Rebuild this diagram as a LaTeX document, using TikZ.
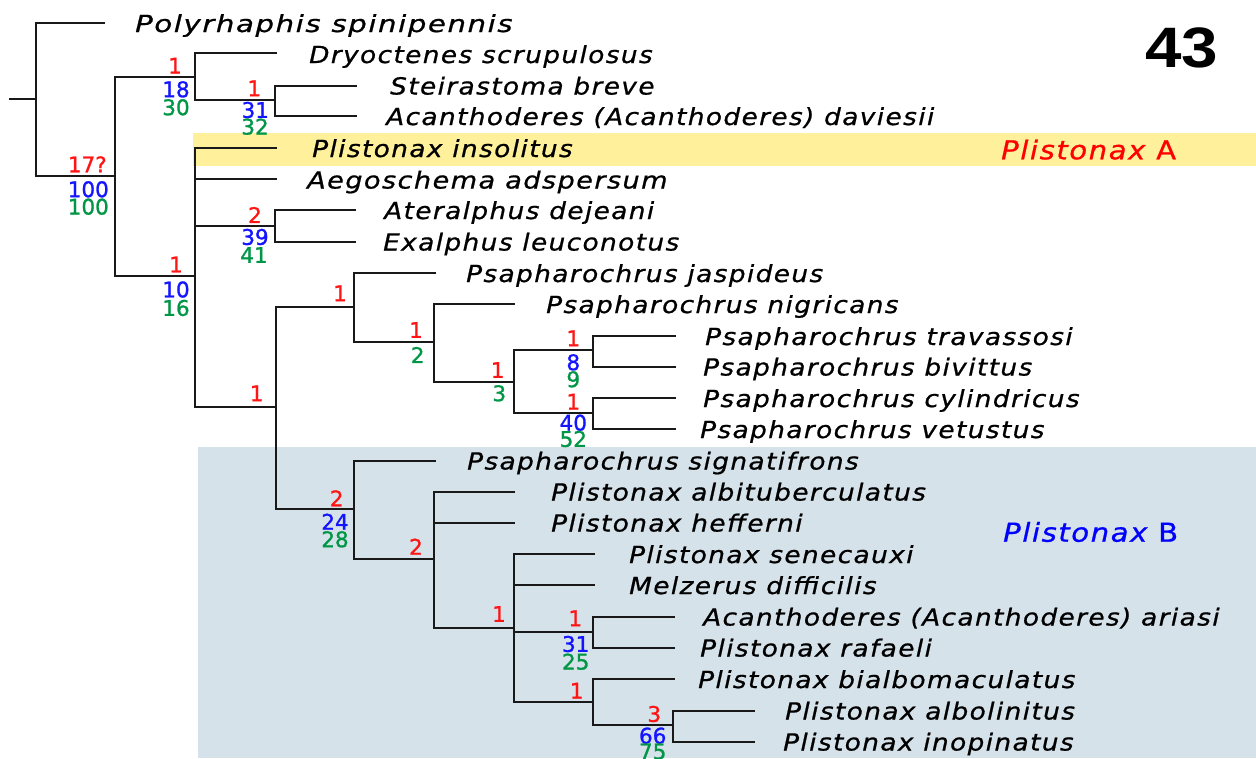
\documentclass[tikz,border=0pt]{standalone}
\usepackage{fontspec}
\setmainfont{DejaVu Sans}
\newfontfamily\taxfont[FakeStretch=1.12,LetterSpace=6,FakeBold=0.8]{DejaVu Sans}
\newfontfamily\numfont[FakeBold=1.2]{DejaVu Sans}
\newfontfamily\bigfont{Liberation Sans}
\definecolor{bremred}{RGB}{255,20,20}
\definecolor{bootblue}{RGB}{20,20,255}
\definecolor{jackgreen}{RGB}{0,150,70}
\definecolor{bandyellow}{RGB}{255,241,155}
\definecolor{bandblue}{RGB}{214,226,233}
\definecolor{branchcol}{RGB}{25,25,25}
\tikzset{
  branch/.style={line width=1.8pt, draw=branchcol, line cap=rect},
  taxon/.style={anchor=base west, inner sep=0pt, text=black,
    font=\taxfont\itshape\fontsize{23.5}{28}\selectfont},
  supp/.style={anchor=center, inner sep=0pt,
    font=\numfont\fontsize{21.5}{24}\selectfont},
  br/.style={supp, text=bremred},
  bs/.style={supp, text=bootblue},
  jk/.style={supp, text=jackgreen},
  grouplab/.style={anchor=base west, inner sep=0pt,
    font=\taxfont\fontsize{26}{30}\selectfont}
}
\begin{document}
\begin{tikzpicture}[x=1pt,y=-1pt]
\useasboundingbox (0,0) rectangle (1256,758);

% shaded clade bands
\fill[bandyellow] (193,132.7) rectangle (1256,166);
\fill[bandblue] (198.3,447.3) rectangle (1256,758);

% internal nodes: (x of the vertical bar, y of the incoming branch)
\coordinate (stub) at (10,98.7);
\coordinate (root) at (36,98.7);
\coordinate (n1) at (115.3,176);
\coordinate (n2) at (195,77.3);
\coordinate (n3) at (275,100);
\coordinate (n4) at (195,276);
\coordinate (n5) at (275,226);
\coordinate (n6) at (275.7,406.7);
\coordinate (n7) at (354.3,306.7);
\coordinate (n8) at (434.3,341.7);
\coordinate (n9) at (514.3,381.7);
\coordinate (n10) at (593.3,350);
\coordinate (n11) at (593.3,412.7);
\coordinate (n12) at (354.3,509.3);
\coordinate (n13) at (434.3,559.3);
\coordinate (n14) at (514,627.7);
\coordinate (n15) at (593.3,631.7);
\coordinate (n16) at (593.3,702.3);
\coordinate (n17) at (673.3,725);

% terminal branch ends
\coordinate (poly) at (104,23);
\coordinate (dryo) at (276,53.3);
\coordinate (stei) at (356,85.7);
\coordinate (dav) at (356,116.3);
\coordinate (ins) at (276,147.7);
\coordinate (aeg) at (276,179.3);
\coordinate (ate) at (355,210.3);
\coordinate (exa) at (355,241.7);
\coordinate (jas) at (435,273.3);
\coordinate (nig) at (514.3,304);
\coordinate (tra) at (675,336);
\coordinate (biv) at (675,366.7);
\coordinate (cyl) at (675,398.3);
\coordinate (vet) at (675,429.3);
\coordinate (sig) at (435,460.7);
\coordinate (alt) at (514.3,491.7);
\coordinate (hef) at (514.3,522.7);
\coordinate (sen) at (594.3,554.3);
\coordinate (mel) at (594.3,585);
\coordinate (ari) at (674.3,616.7);
\coordinate (raf) at (674.3,647.7);
\coordinate (bia) at (674,679);
\coordinate (alo) at (754,710.7);
\coordinate (ino) at (754,741.7);

% branches
\draw[branch] (stub) -- (root);
\foreach \p/\c in {root/poly, root/n1, n1/n2, n1/n4, n2/dryo, n2/n3,
    n3/stei, n3/dav, n4/ins, n4/aeg, n4/n5, n4/n6, n5/ate, n5/exa,
    n6/n7, n6/n12, n7/jas, n7/n8, n8/nig, n8/n9, n9/n10, n9/n11,
    n10/tra, n10/biv, n11/cyl, n11/vet, n12/sig, n12/n13,
    n13/alt, n13/hef, n13/n14, n14/sen, n14/mel, n14/n15, n14/n16,
    n15/ari, n15/raf, n16/bia, n16/n17, n17/alo, n17/ino}
  \draw[branch] (\p) |- (\c);

% taxon names
\node[taxon] (t-poly) at (135,32) {\scalebox{1.11}[1]{Polyrhaphis spinipennis}};
\node[taxon] (t-dryo) at (309,63) {Dryoctenes scrupulosus};
\node[taxon] (t-stei) at (390,94.5) {Steirastoma breve};
\node[taxon] (t-dav) at (386,125) {Acanthoderes (Acanthoderes) daviesii};
\node[taxon] (t-ins) at (312,157) {Plistonax insolitus};
\node[taxon] (t-aeg) at (307,188.5) {\scalebox{1.03}[1]{Aegoschema adspersum}};
\node[taxon] (t-ate) at (384,219) {Ateralphus dejeani};
\node[taxon] (t-exa) at (383,250.5) {Exalphus leuconotus};
\node[taxon] (t-jas) at (466,282) {Psapharochrus jaspideus};
\node[taxon] (t-nig) at (546,313) {Psapharochrus nigricans};
\node[taxon] (t-tra) at (705,345) {Psapharochrus travassosi};
\node[taxon] (t-biv) at (703,375.5) {Psapharochrus bivittus};
\node[taxon] (t-cyl) at (703,407) {Psapharochrus cylindricus};
\node[taxon] (t-vet) at (700,438) {Psapharochrus vetustus};
\node[taxon] (t-sig) at (467,469.5) {Psapharochrus signatifrons};
\node[taxon] (t-alt) at (551,500.5) {Plistonax albituberculatus};
\node[taxon] (t-hef) at (551,531.5) {Plistonax hefferni};
\node[taxon] (t-sen) at (629,563) {Plistonax senecauxi};
\node[taxon] (t-mel) at (629,594) {Melzerus difficilis};
\node[taxon] (t-ari) at (703,625.5) {Acanthoderes (Acanthoderes) ariasi};
\node[taxon] (t-raf) at (700,656.5) {Plistonax rafaeli};
\node[taxon] (t-bia) at (698,688) {Plistonax bialbomaculatus};
\node[taxon] (t-alo) at (785,719.5) {Plistonax albolinitus};
\node[taxon] (t-ino) at (783,750.5) {Plistonax inopinatus};

% branch support values
\node[br] (s1a) at (87.3,164.3) {17?};
\node[bs] (s1b) at (88.3,189.3) {100};
\node[jk] (s1c) at (88.3,206.7) {100};
\node[br] (s2a) at (175,65.7) {1};
\node[bs] (s2b) at (176,89.3) {18};
\node[jk] (s2c) at (176,107.3) {30};
\node[br] (s3a) at (254.3,88.3) {1};
\node[bs] (s3b) at (255.3,110) {31};
\node[jk] (s3c) at (255,126.7) {32};
\node[br] (s4a) at (176,264.5) {1};
\node[bs] (s4b) at (176,289.5) {10};
\node[jk] (s4c) at (176,308) {16};
\node[br] (s5a) at (255,215) {2};
\node[bs] (s5b) at (255,237) {39};
\node[jk] (s5c) at (254,255) {41};
\node[br] (s6a) at (256.7,393.3) {1};
\node[br] (s7a) at (340,293.3) {1};
\node[br] (s8a) at (416,330) {1};
\node[jk] (s8c) at (417.7,355) {2};
\node[br] (s9a) at (497.7,370) {1};
\node[jk] (s9c) at (499.3,393.3) {3};
\node[br] (s10a) at (573.3,338.3) {1};
\node[bs] (s10b) at (573.3,362.3) {8};
\node[jk] (s10c) at (573.3,379.3) {9};
\node[br] (s11a) at (573.3,401.7) {1};
\node[bs] (s11b) at (573.3,422.7) {40};
\node[jk] (s11c) at (573.3,439) {52};
\node[br] (s12a) at (336.7,498.3) {2};
\node[bs] (s12b) at (335,521.7) {24};
\node[jk] (s12c) at (335,539.3) {28};
\node[br] (s13a) at (416,546.7) {2};
\node[br] (s14a) at (499,614) {1};
\node[br] (s15a) at (575.3,618.3) {1};
\node[bs] (s15b) at (575.7,644) {31};
\node[jk] (s15c) at (575.7,661.7) {25};
\node[br] (s16a) at (576.7,690.7) {1};
\node[br] (s17a) at (654.3,714) {3};
\node[bs] (s17b) at (652.7,735.7) {66};
\node[jk] (s17c) at (652.7,751.5) {75};

% clade names and figure number
\node[grouplab, text=red] (gA) at (1001,159.3) {\itshape Plistonax\upshape\ A};
\node[grouplab, text=blue] (gB) at (1003,541.7) {\itshape Plistonax\upshape\ B};
\node[anchor=base west, inner sep=0pt, font=\bigfont\bfseries\fontsize{57}{60}\selectfont] (fig) at (1145,67.7) {\scalebox{1.15}[1]{43}};
\end{tikzpicture}
\end{document}
